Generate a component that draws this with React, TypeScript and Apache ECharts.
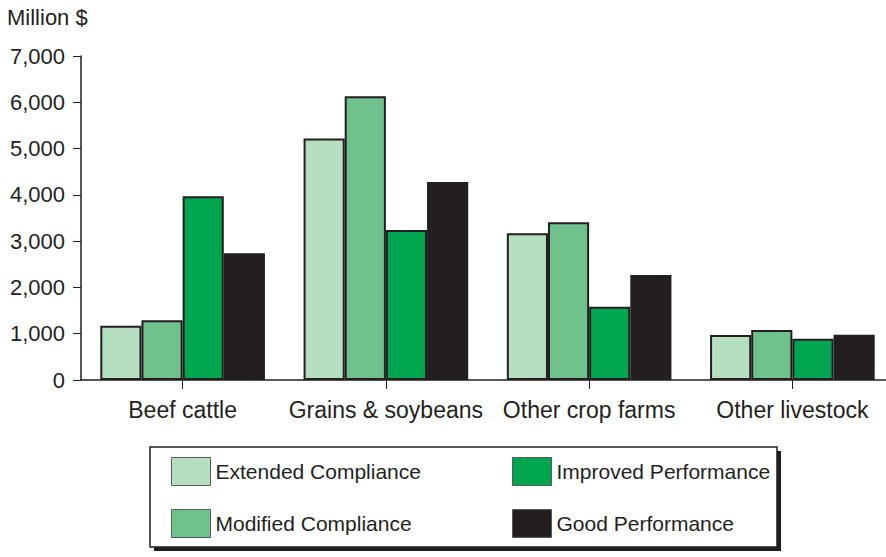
import React, { useEffect, useRef } from "react";
import * as echarts from "echarts";

const categories = ["Beef cattle", "Grains & soybeans", "Other crop farms", "Other livestock"];
const seriesNames = ["Extended Compliance", "Modified Compliance", "Improved Performance", "Good Performance"];
const extendedCompliance = [1170, 5220, 3170, 970];
const modifiedCompliance = [1290, 6130, 3410, 1080];
const improvedPerformance = [3970, 3240, 1580, 890];
const goodPerformance = [2740, 4280, 2270, 980];
const colors = ["#b5dfc0", "#6fc28c", "#00a64f", "#231f20"];

const FONT = "'Liberation Sans', Arial, Helvetica, sans-serif";
const DARK = "#231f20";

export default function App() {
  const ref = useRef<HTMLDivElement>(null);
  useEffect(() => {
    if (!ref.current) return;
    const chart = echarts.init(ref.current, null, { renderer: "svg" });
    const values = [extendedCompliance, modifiedCompliance, improvedPerformance, goodPerformance];
    const legendCommon = {
      orient: "vertical",
      top: 452,
      itemWidth: 39,
      itemHeight: 28,
      itemGap: 23,
      icon: "rect",
      itemStyle: { borderColor: "#5a5a5a", borderWidth: 1 },
      textStyle: { fontFamily: FONT, fontSize: 21, color: DARK },
      selectedMode: false,
    };
    chart.setOption({
      animation: false,
      backgroundColor: "#ffffff",
      title: {
        text: "Million $",
        left: 2,
        top: 1,
        textStyle: { fontFamily: FONT, fontSize: 22, fontWeight: "normal", color: DARK },
      },
      grid: { left: 81, width: 813, top: 56, height: 324 },
      xAxis: {
        type: "category",
        data: categories,
        axisLine: { show: true, lineStyle: { color: DARK, width: 1.5 } },
        axisTick: { show: true, alignWithLabel: true, length: 9, lineStyle: { color: DARK, width: 1 } },
        axisLabel: { interval: 0, fontFamily: FONT, fontSize: 23, color: DARK, margin: 18 },
      },
      yAxis: {
        type: "value",
        min: 0,
        max: 7000,
        interval: 1000,
        splitLine: { show: false },
        axisLine: { show: true, lineStyle: { color: DARK, width: 1.5 } },
        axisTick: { show: true, length: 8, lineStyle: { color: DARK, width: 1 } },
        axisLabel: {
          fontFamily: FONT,
          fontSize: 22,
          color: DARK,
          margin: 16,
          formatter: (v: number) => v.toLocaleString("en-US"),
        },
      },
      legend: [
        { ...legendCommon, data: [seriesNames[0], seriesNames[1]], left: 166 },
        { ...legendCommon, data: [seriesNames[2], seriesNames[3]], left: 507 },
      ],
      graphic: [
        {
          type: "rect",
          z: -10,
          shape: { x: 154, y: 451, width: 627, height: 100 },
          style: { fill: DARK },
        },
        {
          type: "rect",
          z: -9,
          shape: { x: 150, y: 447, width: 627, height: 100 },
          style: { fill: "#ffffff", stroke: DARK, lineWidth: 1.5 },
        },
      ],
      series: seriesNames.map((name, i) => ({
        name,
        type: "bar",
        data: values[i],
        barGap: "0%",
        barCategoryGap: "19%",
        itemStyle: { color: colors[i], borderColor: DARK, borderWidth: 2 },
      })),
    });
    return () => chart.dispose();
  }, []);
  return (
    <div style={{ position: "fixed", left: 0, top: 0, width: 886, height: 557, overflow: "hidden", background: "#fff" }}>
      <div ref={ref} style={{ width: 900, height: 557 }} />
    </div>
  );
}
